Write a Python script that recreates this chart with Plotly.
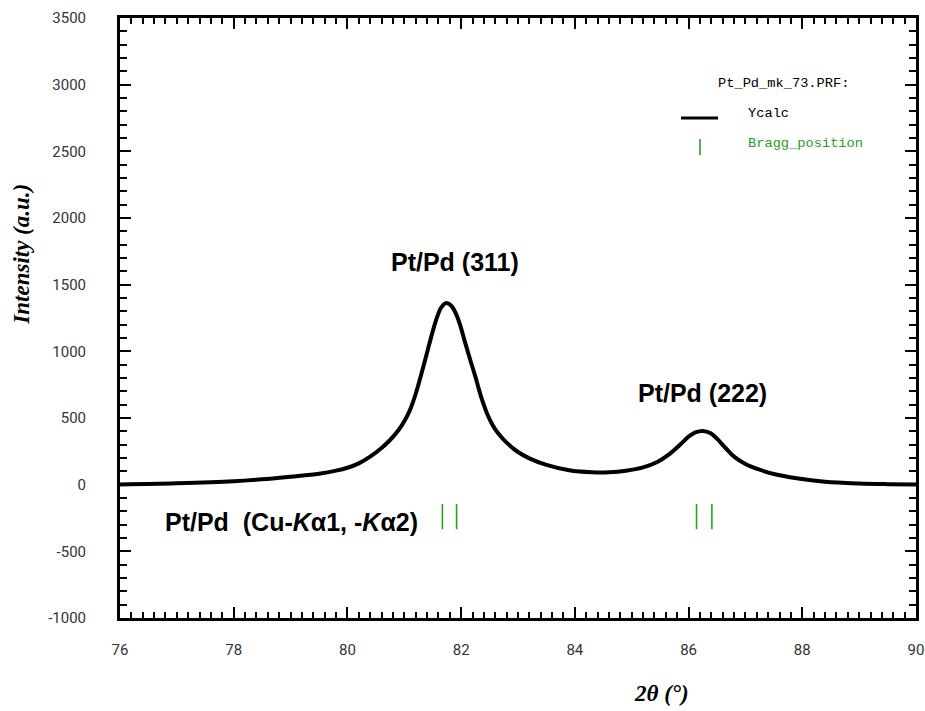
import plotly.graph_objects as go

# ---- data ----
two_theta = [76.0, 77.0, 78.0, 78.5, 79.0, 79.5, 79.8, 80.0, 80.2, 80.4, 80.6,
             80.75, 80.9, 81.0, 81.1, 81.2, 81.3, 81.4, 81.5, 81.58, 81.65,
             81.74, 81.83, 81.9, 81.98, 82.06, 82.15, 82.25, 82.35, 82.45, 82.55,
             82.65, 82.8, 83.0, 83.2, 83.5, 83.9, 84.3, 84.6, 84.9, 85.2,
             85.45, 85.65, 85.85, 86.0, 86.12, 86.25, 86.38, 86.5, 86.65, 86.8,
             87.0, 87.25, 87.5, 87.9, 88.4, 89.0, 89.5, 90.0]
ycalc = [2, 10, 25, 40, 60, 82, 105, 127, 160, 210, 275,
         335, 410, 475, 560, 680, 830, 990, 1150, 1260, 1330,
         1362, 1340, 1290, 1200, 1080, 950, 810, 660, 540, 450,
         385, 315, 245, 197, 148, 108, 93, 93, 105, 130,
         170, 225, 300, 360, 392, 403, 388, 345, 275, 210,
         155, 112, 80, 48, 22, 9, 4, 2]
bragg_positions = [81.67, 81.92, 86.14, 86.41]
bragg_level = [-240, -240, -240, -240]

x_ticks = [76, 78, 80, 82, 84, 86, 88, 90]
y_ticks = [-1000, -500, 0, 500, 1000, 1500, 2000, 2500, 3000, 3500]

GREEN = "#24a024"
L, R, T, B = 120, 916, 18, 618
W, H = R - L, B - T


def px(x):
    return (x - L) / W


def py(y):
    return (B - y) / H


fig = go.Figure()
fig.add_trace(go.Scatter(x=two_theta, y=ycalc, mode="lines",
                         line=dict(color="black", width=4, shape="spline", smoothing=1.0),
                         showlegend=False, hoverinfo="skip"))
fig.add_trace(go.Scatter(x=bragg_positions, y=bragg_level, mode="markers",
                         marker=dict(symbol="line-ns", size=18, color=GREEN,
                                     line=dict(color=GREEN, width=1.6)),
                         showlegend=False, hoverinfo="skip"))

tickfont = dict(family="Roboto, DejaVu Sans, sans-serif", size=15, color="#333333")
axis_common = dict(showline=True, linecolor="black", linewidth=3, mirror="allticks",
                   ticks="inside", ticklen=11, tickwidth=2, tickcolor="black",
                   showgrid=False, zeroline=False, tickfont=tickfont)

fig.update_xaxes(range=[76, 90], tickvals=x_ticks, ticktext=[str(v) for v in x_ticks],
                 minor=dict(dtick=0.2, tick0=76, ticks="inside", ticklen=6,
                            tickwidth=1.5, tickcolor="black"),
                 ticklabelstandoff=16, **axis_common)
fig.update_yaxes(range=[-1000, 3500], tickvals=y_ticks, ticktext=[str(v) for v in y_ticks],
                 minor=dict(dtick=100, tick0=0, ticks="inside", ticklen=7,
                            tickwidth=1.5, tickcolor="black"),
                 ticklabelstandoff=28, **axis_common)

bold = dict(family="Liberation Sans, Arial, sans-serif", size=25, color="black")
serif = dict(family="Liberation Serif, Times New Roman, serif", size=23, color="black")
mono = dict(family="Liberation Mono, Courier New, monospace", size=13.7, color="black")

annotations = [
    dict(x=81.89, y=1667, xref="x", yref="y", text="<b>Pt/Pd (311)</b>",
         showarrow=False, font=bold),
    dict(x=86.24, y=691, xref="x", yref="y", text="<b>Pt/Pd (222)</b>",
         showarrow=False, font=bold),
    dict(x=76.76, y=-283, xref="x", yref="y", xanchor="left",
         text="<b>Pt/Pd&nbsp; (Cu-<i>K</i>α1, -<i>K</i>α2)</b>",
         showarrow=False, font=bold),
    dict(x=px(20.7), y=py(254), xref="paper", yref="paper", textangle=-90,
         xanchor="center", yanchor="middle",
         text="<b><i>Intensity (a.u.)</i></b>", showarrow=False, font=serif),
    dict(x=px(661), y=py(693), xref="paper", yref="paper",
         xanchor="center", yanchor="middle",
         text="<b><i>2θ (°)</i></b>", showarrow=False, font=serif),
    dict(x=px(716), y=py(84), xref="paper", yref="paper", xanchor="left", yanchor="middle",
         text="Pt_Pd_mk_73.PRF:", showarrow=False, font=mono),
    dict(x=px(746), y=py(113), xref="paper", yref="paper", xanchor="left", yanchor="middle",
         text="Ycalc", showarrow=False, font=mono),
    dict(x=px(746), y=py(143), xref="paper", yref="paper", xanchor="left", yanchor="middle",
         text="Bragg_position", showarrow=False, font=dict(mono, color=GREEN)),
]

shapes = [
    dict(type="line", xref="paper", yref="paper", x0=px(681), x1=px(718),
         y0=py(118), y1=py(118), line=dict(color="black", width=3)),
    dict(type="line", xref="paper", yref="paper", x0=px(700), x1=px(700),
         y0=py(139), y1=py(155), line=dict(color=GREEN, width=1.6)),
]

fig.update_layout(width=925, height=711,
                  margin=dict(l=L, r=925 - R, t=T, b=711 - B, autoexpand=False),
                  paper_bgcolor="white", plot_bgcolor="white",
                  annotations=annotations, shapes=shapes, showlegend=False)

fig.write_html("out.html")
